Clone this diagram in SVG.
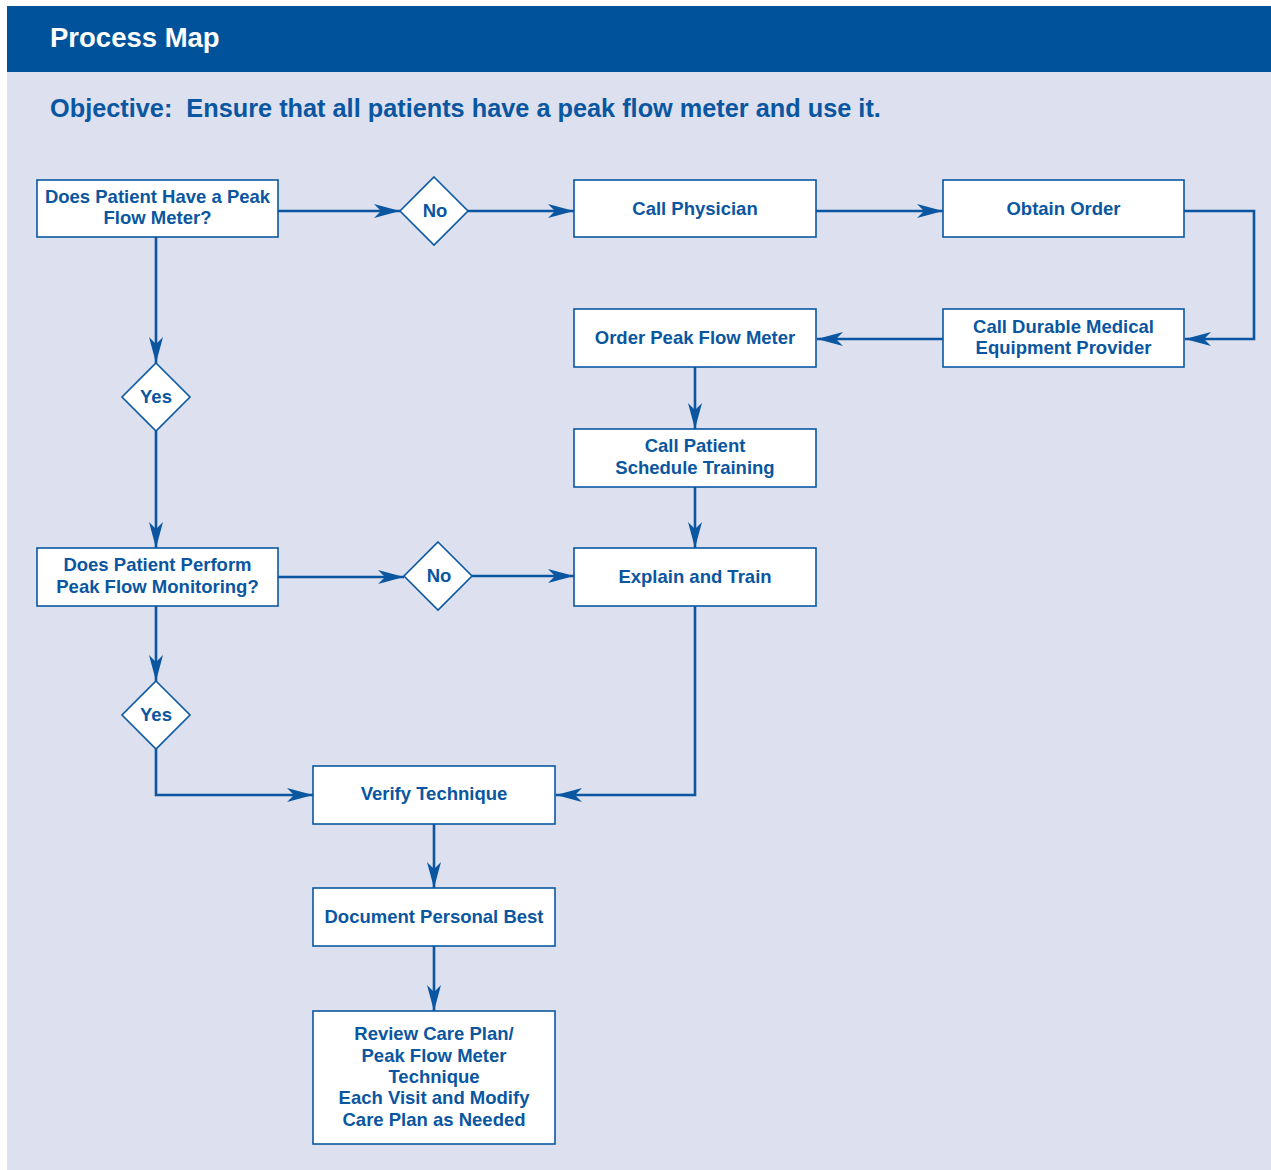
<svg xmlns="http://www.w3.org/2000/svg" width="1271" height="1170" viewBox="0 0 1271 1170">
<style>
.bg{fill:#DCE0EF}
.hdr{fill:#00539B}
.box{fill:#fff;stroke:#0A58A2;stroke-width:1.6}
.t{font-family:"Liberation Sans",Arial,sans-serif;font-weight:bold;font-size:18.5px;fill:#0A56A0;text-anchor:middle}
.c{fill:none;stroke:#0A56A0;stroke-width:2.6}
</style>
<defs>
<marker id="ah" markerUnits="userSpaceOnUse" viewBox="0 0 26 14" refX="26" refY="7" markerWidth="26" markerHeight="14" orient="auto">
<path d="M0,0 L26,7 L0,14 L7,7 z" fill="#0A56A0"/>
</marker>
</defs>
<rect x="0" y="0" width="1271" height="1170" fill="#fff"/>
<rect class="bg" x="7" y="72" width="1264" height="1098"/>
<rect class="hdr" x="7" y="6" width="1264" height="66"/>
<text x="50" y="47" font-family="Liberation Sans,Arial,sans-serif" font-weight="bold" font-size="27.5" fill="#fff">Process Map</text>
<text x="50" y="117" font-family="Liberation Sans,Arial,sans-serif" font-weight="bold" font-size="25.3" fill="#0A56A0" xml:space="preserve">Objective:  Ensure that all patients have a peak flow meter and use it.</text>

<g id="connectors">
<path class="c" d="M278,211 H400" marker-end="url(#ah)"/>
<path class="c" d="M468,211 H574" marker-end="url(#ah)"/>
<path class="c" d="M816,211 H943" marker-end="url(#ah)"/>
<path class="c" d="M1184,211 H1254 V339 H1185" marker-end="url(#ah)"/>
<path class="c" d="M943,339 H817" marker-end="url(#ah)"/>
<path class="c" d="M695,367 V429" marker-end="url(#ah)"/>
<path class="c" d="M695,487 V548" marker-end="url(#ah)"/>
<path class="c" d="M156,237 V363" marker-end="url(#ah)"/>
<path class="c" d="M156,431 V548" marker-end="url(#ah)"/>
<path class="c" d="M278,577 H404" marker-end="url(#ah)"/>
<path class="c" d="M472,576 H574" marker-end="url(#ah)"/>
<path class="c" d="M156,606 V681" marker-end="url(#ah)"/>
<path class="c" d="M156,749 V795 H313" marker-end="url(#ah)"/>
<path class="c" d="M695,606 V795 H556" marker-end="url(#ah)"/>
<path class="c" d="M434,824 V888" marker-end="url(#ah)"/>
<path class="c" d="M434,946 V1011" marker-end="url(#ah)"/>
</g>

<g id="n-have-meter"><rect class="box" x="37" y="180" width="241" height="57"/><text class="t" x="157.5" y="203">Does Patient Have a Peak</text><text class="t" x="157.5" y="224">Flow Meter?</text></g>
<g id="d-no1"><polygon class="box" points="434,177 468,211 434,245 400,211"/><text class="t" x="435" y="217">No</text></g>
<g id="n-call-physician"><rect class="box" x="574" y="180" width="242" height="57"/><text class="t" x="695" y="214.5">Call Physician</text></g>
<g id="n-obtain-order"><rect class="box" x="943" y="180" width="241" height="57"/><text class="t" x="1063.5" y="214.5">Obtain Order</text></g>
<g id="n-call-dme"><rect class="box" x="943" y="309" width="241" height="58"/><text class="t" x="1063.5" y="333">Call Durable Medical</text><text class="t" x="1063.5" y="354">Equipment Provider</text></g>
<g id="n-order-pfm"><rect class="box" x="574" y="309" width="242" height="58"/><text class="t" x="695" y="343.5">Order Peak Flow Meter</text></g>
<g id="n-call-patient"><rect class="box" x="574" y="429" width="242" height="58"/><text class="t" x="695" y="452">Call Patient</text><text class="t" x="695" y="474">Schedule Training</text></g>
<g id="n-explain"><rect class="box" x="574" y="548" width="242" height="58"/><text class="t" x="695" y="582.5">Explain and Train</text></g>
<g id="d-yes1"><polygon class="box" points="156,363 190,397 156,431 122,397"/><text class="t" x="156" y="403">Yes</text></g>
<g id="n-perform"><rect class="box" x="37" y="548" width="241" height="58"/><text class="t" x="157.5" y="571">Does Patient Perform</text><text class="t" x="157.5" y="593">Peak Flow Monitoring?</text></g>
<g id="d-no2"><polygon class="box" points="438,542 472,576 438,610 404,576"/><text class="t" x="439" y="582">No</text></g>
<g id="d-yes2"><polygon class="box" points="156,681 190,715 156,749 122,715"/><text class="t" x="156" y="721">Yes</text></g>
<g id="n-verify"><rect class="box" x="313" y="766" width="242" height="58"/><text class="t" x="434" y="800">Verify Technique</text></g>
<g id="n-document"><rect class="box" x="313" y="888" width="242" height="58"/><text class="t" x="434" y="923">Document Personal Best</text></g>
<g id="n-review"><rect class="box" x="313" y="1011" width="242" height="133"/>
<text class="t" x="434" y="1040">Review Care Plan/</text>
<text class="t" x="434" y="1062">Peak Flow Meter</text>
<text class="t" x="434" y="1083">Technique</text>
<text class="t" x="434" y="1104">Each Visit and Modify</text>
<text class="t" x="434" y="1126">Care Plan as Needed</text></g>
</svg>
